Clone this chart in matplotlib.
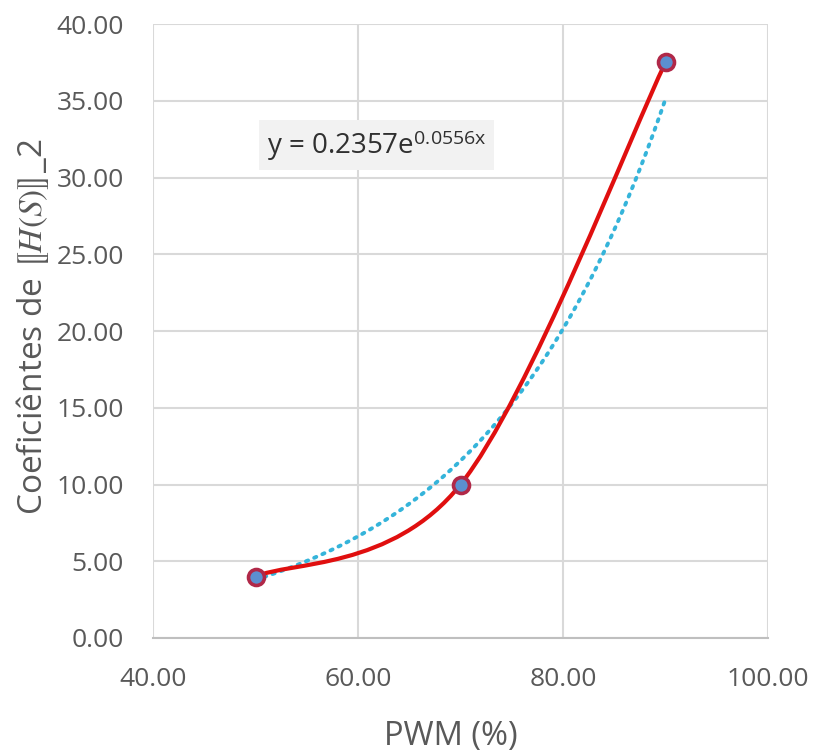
import numpy as np
import matplotlib
matplotlib.use("Agg")
import matplotlib.pyplot as plt
from matplotlib.path import Path
from matplotlib.patches import PathPatch

# ---- data ----
pwm = [50.0, 70.0, 90.0]
coef = [4.0, 10.0, 37.5]
trend_a = 0.2357
trend_b = 0.0556
x_ticks = [40, 60, 80, 100]
y_ticks = [0, 5, 10, 15, 20, 25, 30, 35, 40]

plt.rcParams['font.family'] = ['Open Sans', 'DejaVu Sans']
plt.rcParams['mathtext.fontset'] = 'stix'

fig = plt.figure(figsize=(8.14, 7.52), dpi=100)
ax = fig.add_axes([0.188, 0.1516, 0.7555, 0.8164])

ax.set_xlim(40, 100)
ax.set_ylim(0, 40)
ax.set_xticks(x_ticks)
ax.set_yticks(y_ticks)
ax.set_xticklabels([f"{v:.2f}" for v in x_ticks])
ax.set_yticklabels([f"{v:.2f}" for v in y_ticks])
ax.grid(True, color='#d9d9d9', linewidth=1.5, zorder=0)
ax.set_axisbelow(True)
for s in ['top', 'right', 'left']:
    ax.spines[s].set_visible(False)
ax.spines['bottom'].set_color('#bfbfbf')
ax.spines['bottom'].set_linewidth(1.5)
ax.tick_params(length=0, labelsize=19, colors='#595959', pad=21)

# trendline
xt = np.linspace(pwm[0], pwm[-1], 200)
ax.plot(xt, trend_a * np.exp(trend_b * xt), linestyle=(0, (0.6, 1.7)),
        dash_capstyle='round', color='#35b4da', linewidth=2.8, zorder=2)

# Excel-style smoothed line (Bezier through the points)
pts = np.column_stack([pwm, coef])
n = len(pts)
verts = [tuple(pts[0])]
codes = [Path.MOVETO]
for i in range(n - 1):
    p0 = pts[i - 1] if i > 0 else pts[i]
    p1 = pts[i]
    p2 = pts[i + 1]
    p3 = pts[i + 2] if i + 2 < n else pts[i + 1]
    c1 = p1 + (p2 - p0) / 6.0
    c2 = p2 - (p3 - p1) / 6.0
    verts += [tuple(c1), tuple(c2), tuple(p2)]
    codes += [Path.CURVE4] * 3
ax.add_patch(PathPatch(Path(verts, codes), facecolor='none', edgecolor='#e00f0f',
                       linewidth=3.0, capstyle='round', zorder=3))

ax.plot(pwm, coef, linestyle='none', marker='o', markersize=11.5,
        markerfacecolor='#5b8fd0', markeredgecolor='#b02848', markeredgewidth=2.6,
        zorder=4)

ax.text(51.1, 32.1, r"y = 0.2357e$^{\mathregular{0.0556x}}$", fontsize=20, color='#303030',
        va='center', ha='left',
        bbox=dict(boxstyle='square,pad=0.28', facecolor='#f2f2f2', edgecolor='none'),
        zorder=5)

ax.set_xlabel("PWM (%)", fontsize=23.5, color='#595959')
ax.set_ylabel("Coeficiêntes de $⟦H(S)⟧$_2", fontsize=24, color='#595959')
ax.xaxis.set_label_coords(0.485, -0.1336)
ax.yaxis.set_label_coords(-0.166, 0.507)

fig.savefig("out.png", dpi=100)
